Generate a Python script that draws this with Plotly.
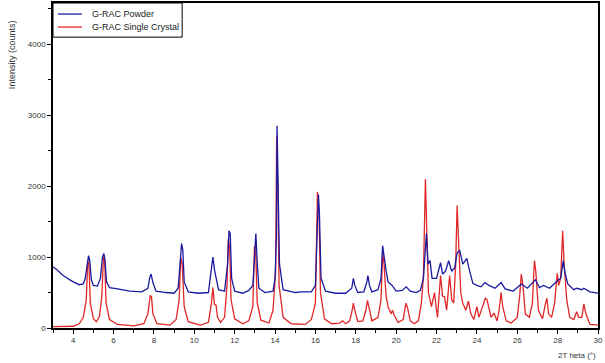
import plotly.graph_objects as go

# ---- data (2-theta in degrees, intensity in counts) ----
powder_2theta = [3.0, 3.2, 3.5, 3.8, 4.0, 4.3, 4.5, 4.6, 4.7, 4.76, 4.82, 4.9, 5.0, 5.2, 5.35, 5.45, 5.52, 5.58, 5.65, 5.8,
                 6.2, 6.8, 7.4, 7.7, 7.8, 7.86, 7.95, 8.1, 8.6, 9.0, 9.2, 9.3, 9.37, 9.43, 9.5, 9.7, 10.2, 10.7, 10.85, 10.92,
                 11.0, 11.08, 11.2, 11.5, 11.65, 11.72, 11.78, 11.85, 12.0, 12.4, 12.7, 12.9, 13.0, 13.05, 13.12, 13.2, 13.5,
                 13.9, 14.0, 14.07, 14.1, 14.15, 14.22, 14.4, 15.0, 15.3, 15.8, 16.0, 16.1, 16.15, 16.2, 16.28, 16.5, 17.0,
                 17.5, 17.8, 17.88, 17.95, 18.1, 18.4, 18.55, 18.6, 18.68, 18.8, 19.1, 19.25, 19.33, 19.4, 19.5, 19.6, 19.8,
                 20.0, 20.3, 20.5, 20.7, 21.0, 21.2, 21.35, 21.45, 21.5, 21.58, 21.68, 21.78, 22.0, 22.2, 22.3, 22.45, 22.6,
                 22.75, 22.9, 23.02, 23.15, 23.3, 23.5, 23.6, 23.8, 24.0, 24.2, 24.4, 24.6, 24.9, 25.2, 25.4, 25.8, 26.2,
                 26.5, 26.9, 27.1, 27.3, 27.6, 28.0, 28.15, 28.28, 28.35, 28.5, 28.8, 28.95, 29.2, 29.3, 29.6, 30.0]
powder_counts = [860, 820, 740, 680, 650, 610, 620, 700, 900, 1020, 950, 680, 600, 590, 700, 1000, 1050, 950, 650, 570,
                 550, 520, 510, 560, 720, 760, 640, 520, 500, 490, 560, 900, 1190, 1100, 650, 510, 490, 500, 800, 1000,
                 820, 700, 540, 520, 900, 1370, 1330, 700, 520, 490, 530, 600, 1000, 1330, 900, 560, 500,
                 520, 700, 1300, 2850, 2080, 900, 540, 500, 510, 510, 600, 1700, 1880, 1600, 700, 520, 490,
                 490, 560, 700, 600, 500, 510, 650, 740, 600, 510, 540, 700, 1160, 1000, 810, 650, 600,
                 520, 530, 580, 520, 500, 530, 700, 1100, 1330, 900, 950, 700, 700, 920, 760, 800, 950,
                 800, 850, 1060, 1090, 900, 980, 850, 630, 600, 580, 640, 600, 560, 640, 550, 520, 620,
                 560, 680, 570, 600, 560, 670, 700, 950, 800, 620, 540, 560, 540, 560, 510, 490]

crystal_2theta = [3.0, 4.0, 4.3, 4.5, 4.65, 4.72, 4.78, 4.85, 5.0, 5.15, 5.3, 5.42, 5.5, 5.56, 5.63, 5.8, 6.2, 7.0, 7.5,
                  7.7, 7.82, 7.88, 7.95, 8.15, 8.8, 9.1, 9.25, 9.33, 9.4, 9.5, 9.7, 10.3, 10.7, 10.85, 10.92, 11.0, 11.08,
                  11.15, 11.3, 11.5, 11.62, 11.68, 11.75, 11.82, 12.0, 12.4, 12.7, 12.9, 12.98, 13.05, 13.12, 13.3, 13.7,
                  13.9, 14.03, 14.08, 14.14, 14.2, 14.4, 14.8, 15.5, 15.8, 16.0, 16.1, 16.18, 16.25, 16.45, 16.8, 17.2,
                  17.35, 17.5, 17.7, 17.82, 17.88, 17.95, 18.1, 18.35, 18.5, 18.58, 18.65, 18.8, 19.1, 19.25, 19.33, 19.4,
                  19.5, 19.6, 19.75, 19.82, 19.9, 20.1, 20.35, 20.48, 20.55, 20.7, 20.9, 21.1, 21.25, 21.35, 21.45, 21.52,
                  21.6, 21.75, 21.9, 22.0, 22.05, 22.2, 22.3, 22.4, 22.5, 22.65, 22.75, 22.85, 22.95, 23.02, 23.1, 23.2,
                  23.3, 23.45, 23.58, 23.7, 23.85, 24.0, 24.1, 24.3, 24.42, 24.5, 24.6, 24.7, 24.85, 25.0, 25.1, 25.2,
                  25.28, 25.45, 25.7, 26.0, 26.12, 26.2, 26.28, 26.4, 26.6, 26.75, 26.85, 26.92, 27.05, 27.25, 27.4,
                  27.47, 27.55, 27.7, 27.85, 27.98, 28.05, 28.15, 28.25, 28.32, 28.45, 28.6, 28.8, 28.94, 29.05, 29.2,
                  29.3, 29.4, 29.6, 30.0]
crystal_counts = [20, 25, 60, 150, 400, 950, 900, 350, 130, 90, 160, 450, 1000, 950, 350, 120, 50, 30, 60,
                  200, 460, 440, 200, 60, 40, 120, 400, 1000, 900, 300, 90, 40, 80, 350, 570, 330, 320,
                  150, 80, 150, 600, 1250, 1150, 400, 130, 60, 100, 300, 1150, 1000, 350, 110, 70,
                  250, 800, 2700, 2000, 600, 150, 60, 50, 120, 350, 1920, 1650, 500, 130, 60, 70,
                  100, 60, 100, 250, 350, 250, 90, 100, 250, 390, 300, 100, 150, 400, 1050, 900,
                  450, 300, 200, 250, 180, 80, 120, 350, 300, 100, 60, 100, 350, 720, 2100, 1400,
                  500, 300, 500, 250, 150, 740, 450, 440, 250, 740, 400, 350, 900, 1725, 1200, 500,
                  350, 250, 380, 200, 120, 300, 150, 300, 420, 400, 250, 150, 210, 100, 250, 500,
                  300, 100, 70, 150, 450, 760, 600, 200, 150, 350, 950, 800, 250, 130, 350,
                  420, 200, 150, 350, 770, 600, 700, 1370, 900, 400, 150, 120, 230, 150, 150,
                  340, 200, 50, 40]

series_names = ["G-RAC Powder", "G-RAC Single Crystal"]
series_colors = ["#1a1aa0", "#e02828"]

x_ticks = [4, 6, 8, 10, 12, 14, 16, 18, 20, 22, 24, 26, 28, 30]
y_ticks = [0, 1000, 2000, 3000, 4000]

font_family = "Liberation Sans, Arial, sans-serif"

fig = go.Figure()
fig.add_trace(go.Scatter(x=crystal_2theta, y=crystal_counts, mode="lines",
                         name=series_names[1], showlegend=False,
                         line=dict(color=series_colors[1], width=1.3)))
fig.add_trace(go.Scatter(x=powder_2theta, y=powder_counts, mode="lines",
                         name=series_names[0], showlegend=False,
                         line=dict(color=series_colors[0], width=1.3)))

# compact legend box (paper coordinates), like the reference
legend_shapes = [dict(type="rect", xref="paper", yref="paper",
                      x0=0, x1=0.237, y0=0.895, y1=1.0,
                      line=dict(color="black", width=1), fillcolor="white", layer="above")]
legend_notes = []
for i, (nm, col) in enumerate(zip(series_names, series_colors)):
    yy = 0.966 - i * 0.04
    legend_shapes.append(dict(type="line", xref="paper", yref="paper",
                              x0=0.009, x1=0.053, y0=yy, y1=yy,
                              line=dict(color=col, width=1.3), layer="above"))
    legend_notes.append(dict(text=nm, xref="paper", yref="paper", x=0.068, y=yy,
                             xanchor="left", yanchor="middle", showarrow=False,
                             font=dict(family=font_family, size=9, color="#222222")))

fig.update_layout(
    width=605, height=363,
    margin=dict(l=53, r=7, t=3, b=35, autoexpand=False),
    paper_bgcolor="white", plot_bgcolor="white",
    font=dict(family=font_family, size=8, color="#333333"),
    showlegend=False,
    xaxis=dict(range=[3, 30], tickvals=x_ticks, ticks="outside", ticklen=4,
               tickcolor="black", automargin=False,
               showline=True, linecolor="black", linewidth=1.5, mirror=True,
               showgrid=False, zeroline=False,
               minor=dict(dtick=1, ticks="outside", ticklen=3, tickcolor="black"),
               tickfont=dict(size=8, color="#333333")),
    yaxis=dict(range=[0, 4580], tickvals=y_ticks, ticks="outside", ticklen=4,
               tickcolor="black", automargin=False,
               showline=True, linecolor="black", linewidth=1.5, mirror=True,
               showgrid=False, zeroline=False,
               minor=dict(dtick=500, ticks="outside", ticklen=3, tickcolor="black"),
               tickfont=dict(size=8, color="#333333")),
    shapes=legend_shapes,
    annotations=legend_notes + [
        dict(text="Intensity (counts)", xref="paper", yref="paper",
             x=-0.075, y=0.84, xanchor="center", yanchor="middle",
             textangle=-90, showarrow=False,
             font=dict(family=font_family, size=9, color="#333333")),
        dict(text="2T heta (°)", xref="paper", yref="paper",
             x=1.0, y=-0.065, xanchor="right", yanchor="top",
             showarrow=False,
             font=dict(family=font_family, size=8, color="#333333")),
    ],
)

fig.write_html("out.html",
               config={"displayModeBar": False},
               post_script="document.body.style.margin='0';document.body.style.padding='0';")
